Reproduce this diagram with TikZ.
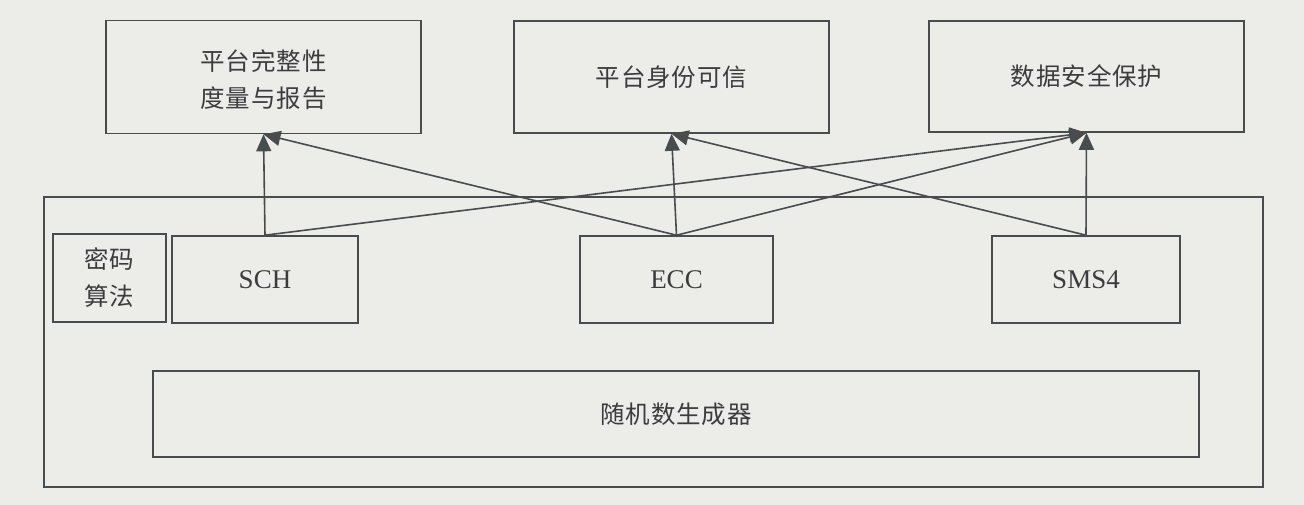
\documentclass[tikz,border=0pt]{standalone}
\usepackage{fontspec}
\setmainfont{Liberation Serif}
\newfontfamily\cjk{Noto Sans CJK SC}[Scale=1]
\usetikzlibrary{arrows.meta}
\definecolor{bgcol}{RGB}{236,236,233}
\definecolor{linecol}{RGB}{72,76,76}
\definecolor{txtcol}{RGB}{60,60,60}
\tikzset{
  box/.style={draw=linecol, line width=1.6pt, rectangle, inner sep=0pt, align=center, text=txtcol},
  cjkt/.style={font=\cjk\fontsize{24.5}{37}\selectfont\addfontfeatures{LetterSpace=4}},
  latt/.style={font=\fontsize{27}{32}\selectfont},
  conn/.style={draw=linecol, line width=1.6pt, -{Triangle[length=17pt,width=15pt]}},
}
\begin{document}
\begin{tikzpicture}[x=1pt,y=-1pt]
\useasboundingbox (0,0) rectangle (1304,504);
\fill[bgcol] (-5,-5) rectangle (1310,510);
% top boxes
\node[box,minimum width=315pt,minimum height=113pt] (b1) at (263.5,77) {};
\node[cjkt,text=txtcol,align=center,inner sep=0pt] (b1t) at (263.5,80) {平台完整性\\度量与报告};
\node[box,cjkt,minimum width=315pt,minimum height=112pt] (b2) at (671.5,77) {平台身份可信};
\node[box,cjkt,minimum width=315pt,minimum height=111pt] (b3) at (1086.5,76.5) {数据安全保护};
% container
\node[box,minimum width=1219pt,minimum height=290pt] (outer) at (653.5,342) {};
\node[box,cjkt,minimum width=113pt,minimum height=88pt] (mima) at (109.5,278) {密码\\算法};
\node[box,latt,minimum width=186pt,minimum height=87pt] (sch) at (265,279.5) {SCH};
\node[box,latt,minimum width=193pt,minimum height=87pt] (ecc) at (676.5,279.5) {ECC};
\node[box,latt,minimum width=188pt,minimum height=87pt] (sms) at (1086,279.5) {SMS4};
\node[box,cjkt,minimum width=1046pt,minimum height=86pt] (rng) at (676,414) {随机数生成器};
% connectors
\draw[conn] (sch.north) -- (b1.south);
\draw[conn] (sch.north) -- (b3.south);
\draw[conn] (ecc.north) -- (b1.south);
\draw[conn] (ecc.north) -- (b2.south);
\draw[conn] (ecc.north) -- (b3.south);
\draw[conn] (sms.north) -- (b2.south);
\draw[conn] (sms.north) -- (b3.south);
\end{tikzpicture}
\end{document}
